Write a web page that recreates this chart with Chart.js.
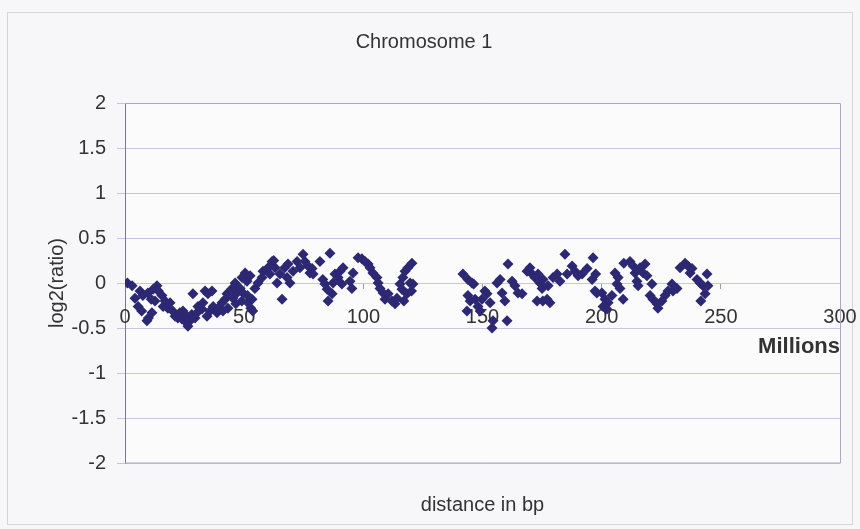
<!DOCTYPE html>
<html lang="en">
  <head>
    <meta charset="UTF-8" />
    <title>Chromosome 1</title>
    <script src="https://cdn.jsdelivr.net/npm/chart.js"></script>
    <style>
      html, body { margin: 0; padding: 0; background: #f7f7f9; }
      #wrap { width: 860px; height: 529px; }
    </style>
  </head>
  <body>
    <div id="wrap"><canvas id="chromChart" width="860" height="529"></canvas></div>
    <script>
      // position along chromosome 1 (millions of bp)
      var posMb = [
        1, 3, 4.2, 5.5, 6.3, 7, 7.5, 9.2, 9.6, 9.8, 11.3, 11.0, 11.8, 12.6, 13.4, 14, 15.5, 16, 16.8, 18,
        18.9, 20, 21, 22.2, 23, 23.9, 24.3, 25, 26, 26.4, 27.3, 28, 28.5, 29.4, 30.2, 30.6, 32.3, 32.7, 33.6, 34.4,
        34.8, 35.7, 36.5, 37, 38.6, 39, 40.7, 41.1, 42, 42.8, 43.2, 44.9, 45.3, 46.2, 46.5, 47, 48.3, 49, 49.1, 49.5,
        50.4, 51.2, 51.4, 51.6, 52.5, 52.8, 53.3, 53.6, 54.5, 55.8, 57.5, 57.9, 60, 60.8, 61.7, 62.4, 63, 63.8, 65, 65.9,
        67, 68, 68.4, 69.2, 70.5, 72.2, 73.4, 74.7, 75.5, 76.8, 77.6, 78.5, 78.9, 81.8, 83, 83.9, 84.8, 85.2, 86, 86.9,
        87.3, 88.1, 89.4, 90.2, 91, 91.5, 94.4, 95.2, 95.7, 97.8, 99.4, 100.7, 102, 102.8, 104, 105.7, 106.2, 107, 108.3, 109.1,
        110.4, 112, 113.3, 114.1, 115.4, 116.2, 116.6, 117, 117.5, 118.3, 118.7, 119.6, 120.4, 120.2, 120.8,
        141.8, 143.9, 143.9, 143.5, 144.8, 145.6, 146.3, 146.9, 148.1, 149, 149.8, 151, 151.9, 153.2, 154, 154.4, 156.1, 157.4, 158.2, 159.4,
        160.3, 160.7, 162.4, 163.6, 164.9, 166.6, 168.7, 169.9, 170.8, 172, 172.9, 173.3, 174.1, 175, 175.3, 175.4, 177.1, 177.5, 178.3, 179.6,
        181.3, 182.5, 184.6, 185.5, 187.6, 188.8, 190.1, 191.8, 193.9, 196, 196.4, 197.2, 197.5, 198, 200.1, 200.6, 201.4, 202.2, 202.7, 204.3,
        205.6, 206.4, 206.9, 207.7, 209, 209.3, 211.9, 213.2, 214, 214.8, 215.3, 216.1, 217.4, 218.2, 219, 220.3, 221.1, 221.5, 223.2, 223.6,
        225.3, 226.6, 227.8, 229.5, 229.9, 231.6, 232.9, 235, 236.2, 237.1, 237.9, 240, 241.3, 241.6, 242.5, 243.4, 244.2, 244.6
      ];
      // log2 ratio at each position
      var log2Ratio = [
        0.00, -0.03, -0.17, -0.26, -0.09, -0.31, -0.14, -0.42, -0.11, -0.39, -0.33, -0.18, -0.07, -0.20, -0.03, -0.09, -0.14, -0.26, -0.20, -0.28,
        -0.22, -0.31, -0.37, -0.39, -0.33, -0.40, -0.31, -0.42, -0.37, -0.48, -0.42, -0.35, -0.12, -0.39, -0.33, -0.26, -0.29, -0.22, -0.09, -0.37,
        -0.12, -0.31, -0.09, -0.26, -0.33, -0.28, -0.22, -0.31, -0.18, -0.12, -0.28, -0.06, -0.17, 0.00, -0.23, -0.11, -0.06, -0.20, 0.06, -0.11,
        0.11, 0.02, -0.14, -0.22, 0.08, -0.28, -0.18, -0.31, -0.06, 0.00, 0.06, 0.13, 0.17, 0.10, 0.24, 0.25, 0.17, 0.00, 0.10, -0.18,
        0.17, 0.06, 0.21, 0.00, 0.13, 0.24, 0.17, 0.32, 0.24, 0.19, 0.11, 0.16, 0.10, 0.24, 0.04, -0.01, -0.07, -0.20, 0.33, -0.12,
        0.00, 0.10, 0.06, 0.13, -0.01, 0.17, 0.02, -0.06, 0.11, 0.28, 0.27, 0.24, 0.21, 0.17, 0.11, 0.06, 0.00, -0.06, -0.11, -0.18,
        -0.12, -0.20, -0.23, -0.17, -0.01, -0.07, 0.06, -0.20, 0.13, -0.12, 0.17, 0.00, 0.22, -0.09, -0.01,
        0.10, 0.04, -0.14, -0.31, -0.20, 0.00, -0.01, -0.18, -0.26, -0.31, -0.18, -0.09, -0.12, -0.22, -0.50, -0.42, 0.00, 0.04, -0.11, -0.20,
        -0.42, 0.21, 0.02, -0.03, -0.11, -0.12, 0.13, 0.17, 0.10, 0.06, -0.20, 0.10, 0.00, -0.06, -0.20, 0.04, -0.18, -0.03, -0.22, 0.06,
        0.10, 0.02, 0.32, 0.10, 0.19, 0.13, 0.08, 0.10, 0.16, 0.04, 0.28, -0.09, 0.10, -0.11, -0.11, -0.26, -0.18, -0.29, -0.22, -0.14,
        0.11, -0.01, 0.06, -0.06, -0.18, 0.22, 0.24, 0.19, 0.11, 0.02, -0.03, 0.17, 0.11, 0.21, 0.08, -0.14, -0.01, -0.18, -0.23, -0.28,
        -0.20, -0.14, -0.09, -0.01, -0.09, -0.06, 0.17, 0.22, 0.19, 0.11, 0.16, 0.04, 0.00, -0.20, -0.03, -0.12, 0.10, -0.03
      ];
      var xTicks = [0, 300, 50]; // min, max, step
      var yTicks = [-2, 2, 0.5];

      var points = posMb.map(function (x, i) {
        return { x: x, y: log2Ratio[i] };
      });

      var FONT = "'Liberation Sans', Arial, sans-serif";
      var TEXT = "#333333";
      var GRID = "#c6c6e2";
      var MARK = "#2d2873";

      // background, outer border and plot frame
      var framePlugin = {
        id: "frame",
        beforeDraw: function (chart) {
          var c = chart.ctx;
          c.save();
          c.fillStyle = "#f7f7f9";
          c.fillRect(0, 0, chart.width, chart.height);
          c.strokeStyle = "#d4d4da";
          c.lineWidth = 1;
          c.strokeRect(7.5, 12.5, chart.width - 15, chart.height - 17);
          var a = chart.chartArea;
          c.fillStyle = "#fbfbfc";
          c.fillRect(a.left, a.top, a.right - a.left, a.bottom - a.top);
          c.restore();
        },
        afterDraw: function (chart) {
          var c = chart.ctx;
          var a = chart.chartArea;
          c.save();
          c.strokeStyle = "#a8a8c4";
          c.lineWidth = 1;
          c.beginPath();
          c.moveTo(a.left, a.top + 0.5);
          c.lineTo(a.right + 0.5, a.top + 0.5);
          c.lineTo(a.right + 0.5, a.bottom);
          c.lineTo(a.left, a.bottom);
          c.stroke();
          c.restore();
        },
      };

      var ctx = document.getElementById("chromChart").getContext("2d");
      new Chart(ctx, {
        type: "scatter",
        data: {
          datasets: [
            {
              label: "log2(ratio)",
              data: points,
              pointStyle: "rectRot",
              pointRadius: 5.5,
              pointHoverRadius: 5.5,
              backgroundColor: MARK,
              borderColor: MARK,
              borderWidth: 0,
            },
          ],
        },
        options: {
          responsive: false,
          animation: false,
          layout: { padding: { left: 8, right: 20, top: 12, bottom: 4 } },
          plugins: {
            legend: { display: false },
            tooltip: { enabled: false },
            title: {
              display: true,
              text: "Chromosome 1",
              color: TEXT,
              font: { family: FONT, size: 20, weight: "normal" },
              padding: { top: 18, bottom: 49 },
            },
          },
          scales: {
            y: {
              min: yTicks[0],
              max: yTicks[1],
              ticks: {
                stepSize: yTicks[2],
                color: TEXT,
                padding: 11,
                font: { family: FONT, size: 20 },
                callback: function (v) { return String(v); },
              },
              grid: { color: GRID, tickLength: 8, drawTicks: true },
              border: { display: true, color: "#7a7a8a" },
              title: {
                display: true,
                text: "log2(ratio)",
                color: TEXT,
                font: { family: FONT, size: 20 },
                padding: { top: 37, bottom: 0 },
              },
              afterFit: function (s) { s.width = 117; },
            },
            x: {
              type: "linear",
              position: { y: 0 },
              min: xTicks[0],
              max: xTicks[1],
              ticks: {
                stepSize: xTicks[2],
                color: TEXT,
                padding: 17,
                font: { family: FONT, size: 20 },
                maxRotation: 0,
              },
              grid: { drawOnChartArea: false, drawTicks: true, tickLength: 5, color: "#9a9ab8" },
              border: { display: true, color: GRID },
              title: {
                display: true,
                text: "Millions",
                align: "end",
                color: TEXT,
                font: { family: FONT, size: 22, weight: "bold" },
                padding: 0,
              },
              afterFit: function (s) {
                s.height = 77;
                s.paddingLeft = 0;
                s.paddingRight = 0;
              },
            },
            x2: {
              type: "linear",
              position: "bottom",
              min: xTicks[0],
              max: xTicks[1],
              ticks: { display: false },
              grid: { display: false },
              border: { display: false },
              title: {
                display: true,
                text: "distance in bp",
                color: TEXT,
                font: { family: FONT, size: 20 },
                padding: { top: 0, bottom: 8 },
              },
              afterFit: function (s) { s.height = 62; },
            },
          },
        },
        plugins: [framePlugin],
      });
    </script>
  </body>
</html>
